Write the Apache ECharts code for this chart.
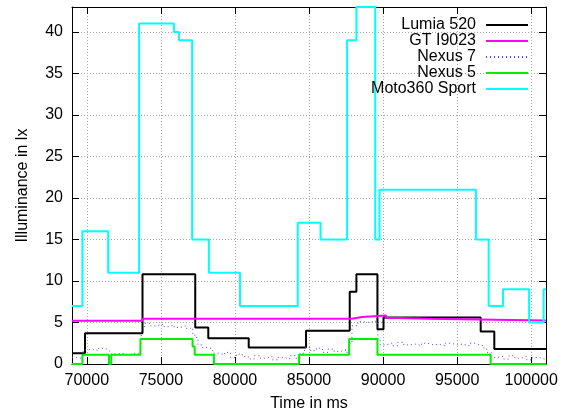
<!DOCTYPE html>
<html><head><meta charset="utf-8">
<script src="https://cdn.jsdelivr.net/npm/echarts@6/dist/echarts.min.js"></script>
<style>html,body{margin:0;padding:0;background:#fff}#c{width:566px;height:412px}</style>
</head><body><div id="c"></div>
<script>
const seriesNames = ['Lumia 520', 'GT I9023', 'Nexus 7', 'Nexus 5', 'Moto360 Sport'];

const lumiaTime = [69000, 69880, 73760, 77320, 78200, 80930, 84800, 87750, 88200, 89620, 90030, 96590, 97510, 101000];
const lumiaLux  = [1.3, 3.7, 10.8, 4.4, 3.1, 2.0, 4.0, 8.7, 10.8, 4.2, 5.6, 3.9, 1.8, 1.8];

const gtTime = [69000, 73760, 87890, 88570, 90200, 91050, 93000, 101000];
const gtLux  = [5.2, 5.45, 5.65, 5.85, 5.55, 5.45, 5.25, 5.25];

const nexus7Time = [69000, 69300, 69600, 69750, 70000, 70400, 70800, 71200, 71500, 71600, 72000, 72400, 72800, 73200, 73600,
  73700, 73900, 74300, 74700, 75100, 75500, 75900, 76300, 76700, 77000, 77150, 77300, 77500, 77800, 78200, 78500, 78900,
  79300, 79700, 80100, 80500, 80900, 81300, 81700, 82100, 82500, 82900, 83300, 83700, 84100, 84400, 84700, 85100, 85500,
  85900, 86300, 86700, 87100, 87500, 87700, 87900, 88300, 88700, 89100, 89500, 89650, 89800, 90200, 90600, 91000, 91400,
  91800, 92200, 92600, 93000, 93400, 93800, 94200, 94600, 95000, 95400, 95800, 96200, 96500, 96800, 97000, 97300, 97700,
  98100, 98500, 98900, 99300, 99700, 100100, 100500, 100900, 101000];
const nexus7Lux = [0.8, 0.7, 0.9, 1.7, 1.8, 1.6, 1.9, 1.7, 1.8, 1.2, 1.3, 1.1, 1.3, 1.2, 1.4,
  4.2, 4.9, 4.6, 4.8, 4.5, 4.7, 4.4, 4.6, 4.3, 4.4, 3.5, 3.2, 2.3, 2.0, 1.8, 1.3, 1.1,
  1.4, 0.8, 1.2, 0.9, 0.6, 1.0, 0.7, 0.9, 0.5, 0.8, 0.6, 1.0, 0.7, 1.3, 2.0, 1.6, 1.9,
  1.4, 1.8, 1.5, 1.7, 1.4, 2.5, 4.6, 5.1, 5.0, 5.2, 4.9, 3.0, 2.3, 2.5, 2.2, 2.6, 2.3,
  2.4, 2.2, 2.5, 2.3, 2.4, 2.2, 2.5, 2.3, 2.4, 2.2, 2.5, 2.3, 2.2, 1.9, 1.4, 0.8, 0.9,
  0.6, 1.0, 0.7, 0.9, 0.5, 0.8, 0.6, 0.4, 0.5];

const nexus5Time = [69000, 69700, 71500, 71650, 73620, 77140, 77280, 78580, 84330, 87710, 89620, 97260, 101000];
const nexus5Lux  = [0, 1.1, 0, 1.1, 3.0, 2.1, 1.1, 0, 1.1, 3.0, 1.1, 0, 0];

const motoTime = [69000, 69700, 71440, 73530, 75880, 76220, 77110, 78240, 80340, 84240, 85780, 87570, 88200, 89470, 89760, 96270, 97130, 98100, 99860, 100840, 101000];
const motoLux  = [7, 16, 11, 41, 40, 39, 15, 11, 7, 17, 15, 39, 43, 15, 21, 15, 7, 9, 5, 9, 9];

const xTickLabels = ['70000', '75000', '80000', '85000', '90000', '95000', '100000'];
const yTickLabels = ['0', '5', '10', '15', '20', '25', '30', '35', '40'];

const colors = ['#000000', '#ff00ff', '#4848ff', '#00ee00', '#00ffff'];
const FONT = 'Liberation Sans, Arial, sans-serif';

function pairs(t, v) { return t.map((x, i) => [x, v[i]]); }

const chart = echarts.init(document.getElementById('c'), null, { renderer: 'canvas' });

const gridLine = { show: true, lineStyle: { color: '#a8a8a8', width: 1, type: [1, 2] } };
const xBase = { type: 'value', min: 69000, max: 101000, splitNumber: 6, gridIndex: 0 };
const yBase = { type: 'value', min: 0, max: 43, interval: 5, gridIndex: 0 };

chart.setOption({
  animation: false,
  color: colors,
  textStyle: { fontFamily: FONT },
  grid: { left: 72, top: 7, right: 20, bottom: 48, containLabel: false, outerBoundsMode: 'none' },
  legend: {
    orient: 'vertical', align: 'right', right: 37, top: 17, padding: 0, itemGap: 0,
    itemWidth: 42, itemHeight: 14,
    itemStyle: { opacity: 0 },
    textStyle: { fontFamily: FONT, fontSize: 16, color: '#000', padding: [0, 5, 0, 0] },
    data: seriesNames
  },
  xAxis: [
    Object.assign({}, xBase, {
      position: 'bottom',
      name: 'Time in ms', nameLocation: 'middle', nameGap: 32,
      nameTextStyle: { fontFamily: FONT, fontSize: 16, color: '#000' },
      axisLine: { show: true, onZero: false, lineStyle: { color: '#000', width: 1 } },
      axisTick: { show: true, inside: true, length: 7, lineStyle: { color: '#000' } },
      axisLabel: { show: true, margin: 9, fontFamily: FONT, fontSize: 16, color: '#000', showMinLabel: false, showMaxLabel: false,
        formatter: v => xTickLabels.indexOf(String(v)) >= 0 ? String(v) : '' },
      splitLine: gridLine
    }),
    Object.assign({}, xBase, {
      position: 'top',
      axisLine: { show: true, onZero: false, lineStyle: { color: '#000', width: 1 } },
      axisTick: { show: true, inside: true, length: 7, lineStyle: { color: '#000' } },
      axisLabel: { show: false },
      splitLine: { show: false }
    })
  ],
  yAxis: [
    Object.assign({}, yBase, {
      position: 'left',
      name: 'Illuminance in lx', nameLocation: 'middle', nameGap: 41,
      nameTextStyle: { fontFamily: FONT, fontSize: 16, color: '#000' },
      axisLine: { show: true, onZero: false, lineStyle: { color: '#000', width: 1 } },
      axisTick: { show: true, inside: true, length: 7, lineStyle: { color: '#000' } },
      axisLabel: { show: true, margin: 9, fontFamily: FONT, fontSize: 16, color: '#000', showMaxLabel: false,
        formatter: v => yTickLabels.indexOf(String(v)) >= 0 ? String(v) : '' },
      splitLine: gridLine
    }),
    Object.assign({}, yBase, {
      position: 'right',
      axisLine: { show: true, onZero: false, lineStyle: { color: '#000', width: 1 } },
      axisTick: { show: true, inside: true, length: 7, lineStyle: { color: '#000' } },
      axisLabel: { show: false },
      splitLine: { show: false }
    })
  ],
  series: [
    { name: seriesNames[0], type: 'line', step: 'end', symbol: 'none', data: pairs(lumiaTime, lumiaLux),
      lineStyle: { color: colors[0], width: 2 }, itemStyle: { color: colors[0] } },
    { name: seriesNames[1], type: 'line', step: 'end', symbol: 'none', data: pairs(gtTime, gtLux),
      lineStyle: { color: colors[1], width: 2 }, itemStyle: { color: colors[1] } },
    { name: seriesNames[2], type: 'line', step: 'end', symbol: 'none', data: pairs(nexus7Time, nexus7Lux),
      lineStyle: { color: colors[2], width: 1, type: [1, 3] }, itemStyle: { color: colors[2] } },
    { name: seriesNames[3], type: 'line', step: 'end', symbol: 'none', data: pairs(nexus5Time, nexus5Lux),
      lineStyle: { color: colors[3], width: 2 }, itemStyle: { color: colors[3] } },
    { name: seriesNames[4], type: 'line', step: 'end', symbol: 'none', data: pairs(motoTime, motoLux),
      lineStyle: { color: colors[4], width: 2 }, itemStyle: { color: colors[4] } }
  ]
});
</script>
</body></html>
